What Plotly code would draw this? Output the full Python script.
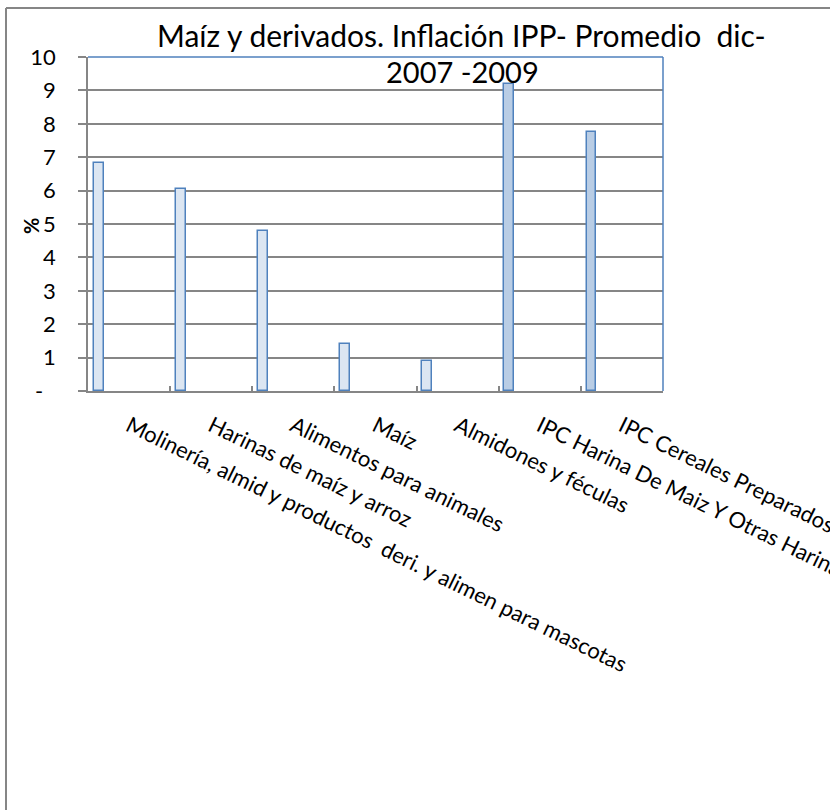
import plotly.graph_objects as go

categories = [
    "Molinería, almid y productos  deri. y alimen para mascotas",
    "Harinas de maíz y arroz",
    "Alimentos para animales",
    "Maíz",
    "Almidones y féculas",
    "IPC Harina De Maiz Y Otras Harinas",
    "IPC Cereales Preparados",
]
values = [6.82, 6.04, 4.78, 1.40, 0.90, 9.19, 7.76]
bar_fills = ["#DCE6F2", "#DCE6F2", "#DCE6F2", "#DCE6F2", "#DCE6F2", "#B9CDE5", "#B9CDE5"]
y_tickvals = [0, 1, 2, 3, 4, 5, 6, 7, 8, 9, 10]
y_ticktext = ["-\u2007", "1", "2", "3", "4", "5", "6", "7", "8", "9", "10"]
title_line1 = "Maíz y derivados. Inflación IPP- Promedio  dic-"
title_line2 = "2007 -2009"

W, H = 830, 810
L, R, T, B = 88, 167, 57, 419
pw, ph = W - L - R, H - T - B

def px_x(x):
    return (x - L) / pw

def px_y(y):
    return (H - B - y) / ph

FONT = "Lato"
GRAY = "#868686"

fig = go.Figure()
fig.add_trace(go.Bar(
    x=categories, y=values,
    width=0.12, offset=-0.43,
    marker=dict(color=bar_fills, line=dict(color="#4F81BD", width=1.5)),
    hoverinfo="x+y",
))

fig.update_layout(
    width=W, height=H,
    margin=dict(l=L, r=R, t=T, b=B, pad=0, autoexpand=False),
    paper_bgcolor="white", plot_bgcolor="white",
    showlegend=False,
    font=dict(family=FONT, size=22, color="black"),
    bargap=0,
)
fig.update_xaxes(
    type="category",
    automargin=False,
    tickangle=26,
    tickson="boundaries",
    ticks="inside", ticklen=5, tickcolor=GRAY, tickwidth=1.5,
    showline=True, linecolor=GRAY, linewidth=1.5,
    showgrid=False,
    tickfont=dict(family=FONT, size=22),
    ticklabelstandoff=12,
    range=[-0.5, 6.5],
)
fig.update_yaxes(
    automargin=False,
    range=[0, 10],
    tickvals=y_tickvals, ticktext=y_ticktext,
    ticks="outside", ticklen=8, tickcolor=GRAY, tickwidth=1.5,
    showline=True, linecolor=GRAY, linewidth=1.5,
    showgrid=True, gridcolor=GRAY, gridwidth=1.5,
    tickfont=dict(family=FONT, size=22),
    ticklabelstandoff=18,
    zeroline=False,
)

# plot-area border (top and right in blue)
fig.add_shape(type="line", xref="paper", yref="paper", x0=0, x1=1, y0=1, y1=1,
              line=dict(color="#4F81BD", width=1.5))
fig.add_shape(type="line", xref="paper", yref="paper", x0=1, x1=1, y0=0, y1=1,
              line=dict(color="#4F81BD", width=1.5))
# outer chart border (left and top visible)
fig.add_shape(type="line", xref="paper", yref="paper",
              x0=px_x(6), x1=px_x(6), y0=px_y(8), y1=px_y(815),
              line=dict(color=GRAY, width=2))
fig.add_shape(type="line", xref="paper", yref="paper",
              x0=px_x(6), x1=px_x(835), y0=px_y(8), y1=px_y(8),
              line=dict(color=GRAY, width=2))

fig.add_annotation(text=title_line1, xref="paper", yref="paper",
                   x=px_x(461), y=px_y(35), xanchor="center", yanchor="middle",
                   showarrow=False, font=dict(family=FONT, size=30))
fig.add_annotation(text=title_line2, xref="paper", yref="paper",
                   x=px_x(462), y=px_y(72), xanchor="center", yanchor="middle",
                   showarrow=False, font=dict(family=FONT, size=29))
fig.add_annotation(text="<b>%</b>", xref="paper", yref="paper",
                   x=px_x(31), y=px_y(226), xanchor="center", yanchor="middle",
                   textangle=-90, showarrow=False, font=dict(family=FONT, size=20))

fig.write_html("out.html", config={"displayModeBar": False},
               post_script="document.body.style.margin='0';")
